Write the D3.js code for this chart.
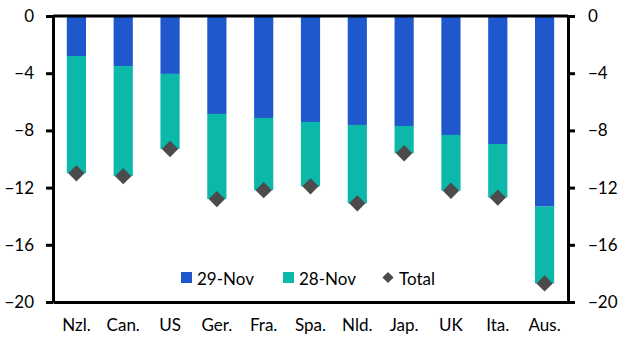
<!DOCTYPE html>
<html>
<head>
<meta charset="utf-8">
<script src="https://d3js.org/d3.v7.min.js"></script>
<style>
  body { margin: 0; background: #fff; }
  svg text { font-family: Lato, "Noto Sans", sans-serif; fill: #000; }
</style>
</head>
<body>
<div id="chart"></div>
<script>
const width = 628, height = 351;

// data (percentage points)
const countries = ["Nzl.", "Can.", "US", "Ger.", "Fra.", "Spa.", "Nld.", "Jap.", "UK", "Ita.", "Aus."];
const nov29 = [-2.8, -3.5, -4.05, -6.85, -7.13, -7.41, -7.62, -7.69, -8.32, -8.95, -13.33];
const nov28 = [-8.2, -7.7, -5.25, -5.95, -5.05, -4.5, -5.48, -1.91, -3.9, -3.75, -5.37];
const yTicks = [0, -4, -8, -12, -16, -20];
const seriesNames = ["29-Nov", "28-Nov", "Total"];

const blue = "#1f58cc", teal = "#0cb8aa", grey = "#4b4b4b";

const rows = countries.map((c, i) => ({
    country: c,
    nov29: nov29[i],
    nov28: nov28[i],
    total: nov29[i] + nov28[i]
}));

const x = d3.scaleBand()
    .domain(countries)
    .range([53, 568])
    .paddingInner(0.59)
    .paddingOuter(0.295);

const y = d3.scaleLinear()
    .domain([-20, 0])
    .range([302, 16]);

const stacked = d3.stack()
    .keys(["nov29", "nov28"])
    .offset(d3.stackOffsetDiverging)(rows);

const svg = d3.select("#chart").append("svg")
    .attr("width", width)
    .attr("height", height);

// bars
svg.selectAll("g.layer").data(stacked)
    .join("g")
        .attr("class", "layer")
        .attr("fill", (d, i) => i === 0 ? blue : teal)
    .selectAll("rect").data(d => d)
    .join("rect")
        .attr("x", d => x(d.data.country))
        .attr("width", x.bandwidth())
        .attr("y", d => y(Math.max(d[0], d[1])))
        .attr("height", d => y(Math.min(d[0], d[1])) - y(Math.max(d[0], d[1])));

// axes
const styleAxis = g => {
    g.select(".domain").attr("stroke", "#000").attr("stroke-width", 3);
    g.selectAll(".tick line").attr("stroke", "#000").attr("stroke-width", 3);
    g.selectAll(".tick text").attr("font-size", 17).attr("fill", "#000");
};

svg.append("g")
    .attr("transform", "translate(53,0)")
    .call(d3.axisLeft(y).tickValues(yTicks).tickFormat(d3.format("d"))
        .tickSize(7).tickSizeOuter(0).tickPadding(12))
    .call(styleAxis)
    .call(g => g.selectAll(".tick text").attr("font-family", "Lato"));

svg.append("g")
    .attr("transform", "translate(568,0)")
    .call(d3.axisRight(y).tickValues(yTicks).tickFormat(d3.format("d"))
        .tickSize(7).tickSizeOuter(0).tickPadding(13))
    .call(styleAxis)
    .call(g => g.selectAll(".tick text").attr("font-family", "Lato"));

// zero line and bottom line
svg.append("line")
    .attr("x1", 53).attr("x2", 568)
    .attr("y1", y(0)).attr("y2", y(0))
    .attr("stroke", "#000").attr("stroke-width", 3);

svg.append("g")
    .attr("transform", `translate(0,${y(-20)})`)
    .call(d3.axisBottom(x).tickSize(0).tickSizeOuter(0).tickPadding(17))
    .call(g => {
        g.select(".domain").attr("stroke", "#000").attr("stroke-width", 3);
        g.selectAll(".tick text").attr("font-size", 17).attr("font-family", "Lato").attr("fill", "#000");
    });

// totals
const diamond = d3.symbol().type(d3.symbolDiamond2).size(170);
svg.selectAll("path.total").data(rows)
    .join("path")
        .attr("class", "total")
        .attr("transform", d => `translate(${x(d.country) + x.bandwidth() / 2},${y(d.total)})`)
        .attr("d", diamond)
        .attr("fill", grey);

// legend
const legend = svg.append("g").attr("font-size", 17);
const legendX = [181, 283, 382];
seriesNames.forEach((name, i) => {
    const g = legend.append("g").attr("transform", `translate(${legendX[i]},0)`);
    if (i < 2) {
        g.append("rect").attr("x", 0).attr("y", 272).attr("width", 11).attr("height", 11)
            .attr("fill", i === 0 ? blue : teal);
        g.append("text").attr("x", 16).attr("y", 284.5).text(name);
    } else {
        g.append("path")
            .attr("transform", "translate(6,277.5)")
            .attr("d", d3.symbol().type(d3.symbolDiamond2).size(80))
            .attr("fill", grey);
        g.append("text").attr("x", 17).attr("y", 284.5).text(name);
    }
});
</script>
</body>
</html>
